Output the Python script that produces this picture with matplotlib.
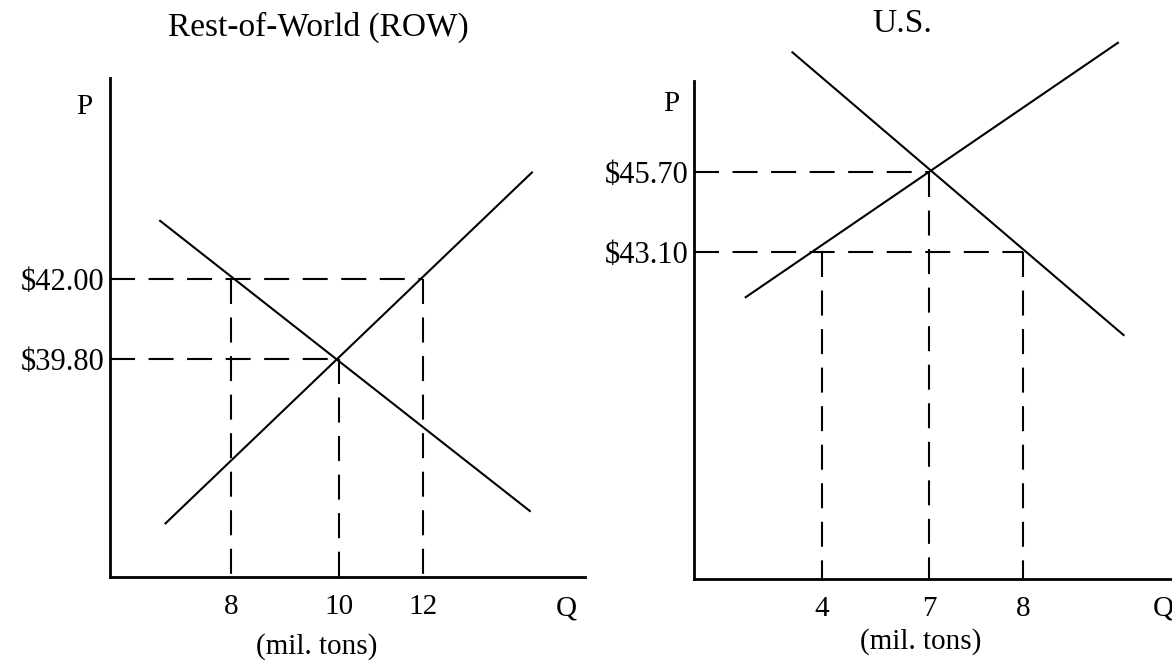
import numpy as np
import matplotlib
matplotlib.use('Agg')
import matplotlib.pyplot as plt

# ---- Rest-of-World panel ----
row_q_ticks = [8, 10, 12]
row_p_ticks = [39.80, 42.00]
row_supply_q = [6.79, 14.59]
row_supply_p = [35.28, 44.93]
row_demand_q = [6.69, 14.54]
row_demand_p = [43.60, 35.62]
# points marked with dashed guides to both axes
row_guide_q = [8, 10, 12]
row_guide_p = [42.00, 39.80, 42.00]

# ---- U.S. panel ----
us_q_ticks = [4, 7, 8]
us_p_ticks = [43.10, 45.70]
us_supply_q = [1.86, 9.01]
us_supply_p = [41.63, 49.90]
us_demand_q = [3.17, 9.07]
us_demand_p = [49.59, 40.40]
us_guide_q = [4, 7, 8]
us_guide_p = [43.10, 45.70, 43.10]

W, H = 1172, 662
plt.rcParams['font.family'] = ['Liberation Serif', 'DejaVu Serif']
fig = plt.figure(figsize=(W / 100, H / 100), dpi=100)


def piecewise(q_knots, px_knots):
    """Hand-drawn Q axis: tick spacing is not uniform, so map Q piecewise."""
    q = np.asarray(q_knots, float)
    p = np.asarray(px_knots, float)
    lo = (p[1] - p[0]) / (q[1] - q[0])
    hi = (p[-1] - p[-2]) / (q[-1] - q[-2])
    q_ext = np.concatenate([[q[0] - 100], q, [q[-1] + 100]])
    p_ext = np.concatenate([[p[0] - 100 * lo], p, [p[-1] + 100 * hi]])
    fwd = lambda v: np.interp(v, q_ext, p_ext)
    inv = lambda v: np.interp(v, p_ext, q_ext)
    return fwd, inv


def panel(box, spine_top, q_ticks, q_px, p_ticks, p_px,
          supply_q, supply_p, demand_q, demand_p, guide_q, guide_p):
    x0, y0, x1, y1 = box  # left, top, right, bottom in pixels
    ax = fig.add_axes([x0 / W, 1 - y1 / H, (x1 - x0) / W, (y1 - y0) / H])
    fwd, inv = piecewise(q_ticks, q_px)
    ax.set_xscale('function', functions=(fwd, inv))
    ax.set_xlim(inv(x0), inv(x1))

    # price axis is linear
    per_px = (p_ticks[1] - p_ticks[0]) / (p_px[0] - p_px[1])
    price_at = lambda y: p_ticks[0] + (p_px[0] - y) * per_px
    ax.set_ylim(price_at(y1), price_at(y0))

    for s in ['top', 'right']:
        ax.spines[s].set_visible(False)
    for s in ['left', 'bottom']:
        ax.spines[s].set_linewidth(2.0)
    ax.spines['left'].set_bounds(price_at(y1), price_at(spine_top))

    ax.plot(supply_q, supply_p, color='black', lw=1.5, clip_on=False)
    ax.plot(demand_q, demand_p, color='black', lw=1.5, clip_on=False)

    dash = dict(color='black', lw=1.5, dashes=(12, 6.5), clip_on=False)
    q_min, p_min = ax.get_xlim()[0], ax.get_ylim()[0]
    for p in sorted(set(guide_p)):
        q_far = max(q for q, pp in zip(guide_q, guide_p) if pp == p)
        ax.plot([q_min, q_far], [p, p], **dash)
    for q, p in zip(guide_q, guide_p):
        ax.plot([q, q], [p, p_min], **dash)

    ax.set_xticks(q_ticks, [str(q) for q in q_ticks])
    ax.set_yticks(p_ticks, ['\\$%.2f' % p for p in p_ticks])
    ax.tick_params(axis='both', length=0)
    ax.tick_params(axis='x', pad=12, labelsize=21)
    ax.tick_params(axis='y', pad=4, labelsize=22)
    ax.patch.set_alpha(0)
    return ax


panel((110, 78, 585, 577), 78, row_q_ticks, [230.8, 338.7, 422.9],
      row_p_ticks, [359, 279], row_supply_q, row_supply_p,
      row_demand_q, row_demand_p, row_guide_q, row_guide_p)
panel((694, 30, 1172, 579), 81, us_q_ticks, [822, 929, 1023],
      us_p_ticks, [252, 172], us_supply_q, us_supply_p,
      us_demand_q, us_demand_p, us_guide_q, us_guide_p)


def label(x, y, s, size=21):
    fig.text(x / W, 1 - y / H, s, ha='center', va='center', size=size)


label(318, 27, 'Rest-of-World (ROW)', 24)
label(902, 24, 'U.S.', 24)
label(84, 107, 'P')
label(671, 104, 'P')
label(566, 609, 'Q')
label(1163, 609, 'Q')
label(317, 647, '(mil. tons)')
label(921, 642, '(mil. tons)')

fig.savefig('out.png', dpi=100, facecolor='white')
